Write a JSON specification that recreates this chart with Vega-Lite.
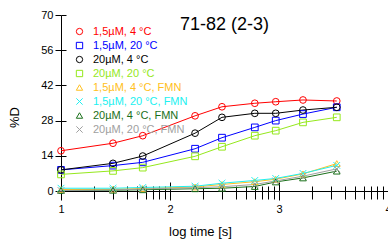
{
"$schema": "https://vega.github.io/schema/vega-lite/v6.json",
"width": 327, "height": 176,
"autosize": "none",
"padding": {"left": 61, "top": 15, "right": 0, "bottom": 53},
"title": {"text": "71-82 (2-3)", "fontSize": 18, "fontWeight": "normal", "font": "Liberation Sans", "color": "black", "anchor": "middle", "frame": "group", "baseline": "alphabetic", "offset": -39},
"config": {"view": {"stroke": null}, "font": "Liberation Sans", "axis": {"grid": false}},
"datasets": {"d": [
{"series":"1,5µM, 4 °C","x":1,"y":16.0},{"series":"1,5µM, 4 °C","x":1.477,"y":19.0},{"series":"1,5µM, 4 °C","x":1.75,"y":22.0},{"series":"1,5µM, 4 °C","x":2.23,"y":29.9},{"series":"1,5µM, 4 °C","x":2.477,"y":33.5},{"series":"1,5µM, 4 °C","x":2.778,"y":34.9},{"series":"1,5µM, 4 °C","x":2.97,"y":35.5},{"series":"1,5µM, 4 °C","x":3.22,"y":36.2},{"series":"1,5µM, 4 °C","x":3.53,"y":35.8},
{"series":"1,5µM, 20 °C","x":1,"y":8.4},{"series":"1,5µM, 20 °C","x":1.477,"y":10.1},{"series":"1,5µM, 20 °C","x":1.75,"y":11.4},{"series":"1,5µM, 20 °C","x":2.23,"y":16.8},{"series":"1,5µM, 20 °C","x":2.477,"y":21.2},{"series":"1,5µM, 20 °C","x":2.778,"y":25.3},{"series":"1,5µM, 20 °C","x":2.97,"y":28.0},{"series":"1,5µM, 20 °C","x":3.22,"y":30.6},{"series":"1,5µM, 20 °C","x":3.53,"y":33.3},
{"series":"20µM, 4 °C","x":1,"y":8.4},{"series":"20µM, 4 °C","x":1.477,"y":11.0},{"series":"20µM, 4 °C","x":1.75,"y":13.9},{"series":"20µM, 4 °C","x":2.23,"y":23.0},{"series":"20µM, 4 °C","x":2.477,"y":29.3},{"series":"20µM, 4 °C","x":2.778,"y":30.9},{"series":"20µM, 4 °C","x":2.97,"y":30.9},{"series":"20µM, 4 °C","x":3.22,"y":32.2},{"series":"20µM, 4 °C","x":3.53,"y":33.3},
{"series":"20µM, 20 °C","x":1,"y":6.6},{"series":"20µM, 20 °C","x":1.477,"y":8.0},{"series":"20µM, 20 °C","x":1.75,"y":9.3},{"series":"20µM, 20 °C","x":2.23,"y":13.8},{"series":"20µM, 20 °C","x":2.477,"y":17.6},{"series":"20µM, 20 °C","x":2.778,"y":22.0},{"series":"20µM, 20 °C","x":2.97,"y":24.0},{"series":"20µM, 20 °C","x":3.22,"y":27.3},{"series":"20µM, 20 °C","x":3.53,"y":29.3},
{"series":"1,5µM, 4 °C, FMN","x":1,"y":0.6},{"series":"1,5µM, 4 °C, FMN","x":1.477,"y":0.7},{"series":"1,5µM, 4 °C, FMN","x":1.75,"y":1.0},{"series":"1,5µM, 4 °C, FMN","x":2.23,"y":1.6},{"series":"1,5µM, 4 °C, FMN","x":2.477,"y":2.6},{"series":"1,5µM, 4 °C, FMN","x":2.778,"y":3.7},{"series":"1,5µM, 4 °C, FMN","x":2.97,"y":4.7},{"series":"1,5µM, 4 °C, FMN","x":3.22,"y":6.8},{"series":"1,5µM, 4 °C, FMN","x":3.53,"y":10.9},
{"series":"1,5µM, 20 °C, FMN","x":1,"y":1.1},{"series":"1,5µM, 20 °C, FMN","x":1.477,"y":1.1},{"series":"1,5µM, 20 °C, FMN","x":1.75,"y":1.4},{"series":"1,5µM, 20 °C, FMN","x":2.23,"y":1.9},{"series":"1,5µM, 20 °C, FMN","x":2.477,"y":3.1},{"series":"1,5µM, 20 °C, FMN","x":2.778,"y":4.2},{"series":"1,5µM, 20 °C, FMN","x":2.97,"y":5.0},{"series":"1,5µM, 20 °C, FMN","x":3.22,"y":7.0},{"series":"1,5µM, 20 °C, FMN","x":3.53,"y":10.2},
{"series":"20µM, 4 °C, FMN","x":1,"y":0.2},{"series":"20µM, 4 °C, FMN","x":1.477,"y":0.3},{"series":"20µM, 4 °C, FMN","x":1.75,"y":0.5},{"series":"20µM, 4 °C, FMN","x":2.23,"y":0.9},{"series":"20µM, 4 °C, FMN","x":2.477,"y":1.1},{"series":"20µM, 4 °C, FMN","x":2.778,"y":1.8},{"series":"20µM, 4 °C, FMN","x":2.97,"y":3.6},{"series":"20µM, 4 °C, FMN","x":3.22,"y":5.2},{"series":"20µM, 4 °C, FMN","x":3.53,"y":7.9},
{"series":"20µM, 20 °C, FMN","x":1,"y":0.2},{"series":"20µM, 20 °C, FMN","x":1.477,"y":0.4},{"series":"20µM, 20 °C, FMN","x":1.75,"y":0.8},{"series":"20µM, 20 °C, FMN","x":2.23,"y":1.3},{"series":"20µM, 20 °C, FMN","x":2.477,"y":1.7},{"series":"20µM, 20 °C, FMN","x":2.778,"y":2.6},{"series":"20µM, 20 °C, FMN","x":2.97,"y":4.0},{"series":"20µM, 20 °C, FMN","x":3.22,"y":5.9},{"series":"20µM, 20 °C, FMN","x":3.53,"y":8.8}
]},
"data": {"name": "d"},
"layer": [
{
"mark": {"type": "line", "strokeWidth": 1},
"encoding": {
"x": {"field": "x", "type": "quantitative", "scale": {"domain": [1, 4], "nice": false, "zero": false},
 "axis": {"orient": "bottom", "values": [1,1.30103,1.47712,1.60206,1.69897,1.77815,1.84510,1.90309,1.95424,2,2.30103,2.47712,2.60206,2.69897,2.77815,2.84510,2.90309,2.95424,3,3.30103,3.47712,3.60206,3.69897,3.77815,3.84510,3.90309,3.95424,4],
  "labelExpr": "datum.value % 1 === 0 ? format(datum.value, 'd') : ''",
  "title": "log time [s]", "titleFontSize": 13, "titleFontWeight": "normal", "titleColor": "black", "titleX": 139, "titleY": 44, "titleBaseline": "alphabetic", "titleAlign": "center",
  "labelFontSize": 11, "labelColor": "black", "labelPadding": 3, "labelFlush": false, "labelOverlap": false,
  "tickSize": {"condition": {"test": "datum.value % 1 === 0", "value": 9}, "value": 8},
  "tickColor": "black", "domainColor": "black"}},
"y": {"field": "y", "type": "quantitative", "scale": {"domain": [0, 70], "nice": false},
 "axis": {"orient": "left", "values": [0,14,28,42,56,70], "title": "%D", "titleFontSize": 13, "titleFontWeight": "normal", "titleColor": "black", "titleX": -43, "titleY": 102, "titleAngle": -90, "titleBaseline": "alphabetic", "titleAlign": "center",
  "labelFontSize": 11, "labelColor": "black", "labelPadding": 2, "tickSize": 6, "tickColor": "black", "domainColor": "black"}},
"color": {"field": "series", "type": "nominal",
 "scale": {"domain": ["1,5µM, 4 °C","1,5µM, 20 °C","20µM, 4 °C","20µM, 20 °C","1,5µM, 4 °C, FMN","1,5µM, 20 °C, FMN","20µM, 4 °C, FMN","20µM, 20 °C, FMN"],
  "range": ["#ff0000","#0000ff","#000000","#95e81c","#ffc020","#20f0f0","#1a701a","#a0a0a0"]},
 "legend": {"orient": "none", "legendX": 13, "legendY": 11, "title": null, "labelFontSize": 11, "labelOffset": 8, "rowPadding": 2, "symbolSize": 40, "symbolStrokeWidth": 1, "labelLimit": 300, "padding": 0,
  "encode": {"labels": {"update": {"fill": {"scale": "color", "field": "value"}}}}}}
}
},
{
"mark": {"type": "point", "filled": false, "size": 45, "strokeWidth": 1, "opacity": 1},
"encoding": {
"x": {"field": "x", "type": "quantitative", "scale": {"domain": [1, 4], "nice": false, "zero": false},
 "axis": {"orient": "bottom", "values": [1,1.30103,1.47712,1.60206,1.69897,1.77815,1.84510,1.90309,1.95424,2,2.30103,2.47712,2.60206,2.69897,2.77815,2.84510,2.90309,2.95424,3,3.30103,3.47712,3.60206,3.69897,3.77815,3.84510,3.90309,3.95424,4],
  "labels": false, "domain": false, "title": null, "tickColor": "black",
  "tickSize": {"condition": {"test": "datum.value % 1 === 0", "value": -9}, "value": -5}}},
"y": {"field": "y", "type": "quantitative", "scale": {"domain": [0, 70], "nice": false},
 "axis": {"orient": "left", "values": [0,14,28,42,56,70], "labels": false, "domain": false, "title": null, "tickColor": "black", "tickSize": -5}},
"color": {"field": "series", "type": "nominal",
 "scale": {"domain": ["1,5µM, 4 °C","1,5µM, 20 °C","20µM, 4 °C","20µM, 20 °C","1,5µM, 4 °C, FMN","1,5µM, 20 °C, FMN","20µM, 4 °C, FMN","20µM, 20 °C, FMN"],
  "range": ["#ff0000","#0000ff","#000000","#95e81c","#ffc020","#20f0f0","#1a701a","#a0a0a0"]},
 "legend": {"orient": "none", "legendX": 13, "legendY": 11, "title": null, "labelFontSize": 11, "labelOffset": 8, "rowPadding": 2, "symbolSize": 40, "symbolStrokeWidth": 1, "labelLimit": 300, "padding": 0,
  "encode": {"labels": {"update": {"fill": {"scale": "color", "field": "value"}}}}}},
"shape": {"field": "series", "type": "nominal",
 "scale": {"domain": ["1,5µM, 4 °C","1,5µM, 20 °C","20µM, 4 °C","20µM, 20 °C","1,5µM, 4 °C, FMN","1,5µM, 20 °C, FMN","20µM, 4 °C, FMN","20µM, 20 °C, FMN"],
  "range": ["circle","square","circle","square","triangle-up","M-1,-1L1,1M-1,1L1,-1","triangle-up","M-1,-1L1,1M-1,1L1,-1"]},
 "legend": {"orient": "none", "legendX": 13, "legendY": 11, "title": null, "labelFontSize": 11, "labelOffset": 8, "rowPadding": 2, "symbolSize": 40, "symbolStrokeWidth": 1, "labelLimit": 300, "padding": 0,
  "encode": {"labels": {"update": {"fill": {"scale": "color", "field": "value"}}}}}}
}
}
],
"resolve": {"axis": {"x": "independent", "y": "independent"}}
}
